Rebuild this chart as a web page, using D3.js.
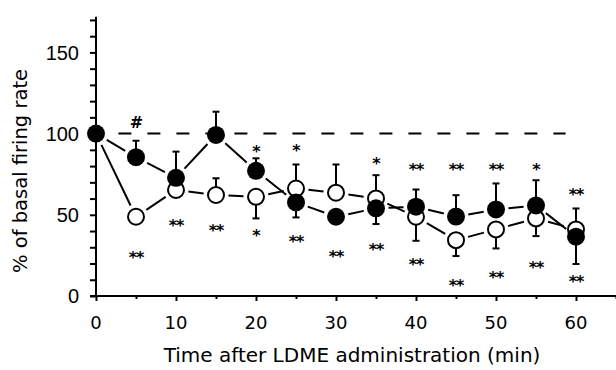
<!DOCTYPE html>
<html>
<head>
<meta charset="utf-8">
<script src="https://cdn.jsdelivr.net/npm/d3@7"></script>
<style>
  body { margin: 0; background: #fff; }
  svg { display: block; }
</style>
</head>
<body>
<svg width="616" height="370"></svg>
<script>
// time points (min)
var times = [0, 5, 10, 15, 20, 25, 30, 35, 40, 45, 50, 55, 60];

// filled circles: mean and one-sided error (+ up, - down, 0 none)
var filledMean = [100, 85.5, 72.8, 99.2, 77.1, 57.6, 48.8, 54.0, 55.0, 48.9, 53.3, 55.8, 36.5];
var filledErr  = [0, 10.1, 16.1, 14.3, 7.7, -9.2, 0, -9.7, 10.6, 13.2, 16.0, 15.5, -16.8];

// open circles
var openMean = [100, 48.8, 65.3, 62.2, 61.1, 66.2, 63.6, 60.1, 48.8, 34.4, 41.0, 47.8, 41.0];
var openErr  = [0, 0, 0, 10.3, -13.3, 14.8, 17.4, 14.3, -14.8, -9.8, -11.7, -10.9, 12.9];

// significance marks (time, text, level in % units)
var sigTime  = [5, 5, 10, 15, 20, 20, 25, 25, 30, 35, 35, 40, 40, 45, 45, 50, 50, 55, 55, 60, 60];
var sigText  = ["#", "**", "**", "**", "*", "*", "*", "**", "**", "*", "**", "**", "**", "**", "**", "**", "**", "*", "**", "**", "**"];
var sigLevel = [106.7, 26.5, 46.2, 42.7, 91.6, 39.6, 91.9, 36.1, 26.7, 84.2, 31.4, 80.2, 21.7, 80.2, 8.8, 80.2, 14.0, 80.2, 20.1, 65.3, 11.5];

// baseline reference
var baseline = 100;
var baselineFrom = 2.8, baselineTo = 58.7;

var yTicks = [0, 50, 100, 150];
var xTicks = [0, 10, 20, 30, 40, 50, 60];

var svg = d3.select("svg");
var r = 9;

var x = d3.scaleLinear().domain([0, 65]).range([96, 616]);
var y = d3.scaleLinear().domain([0, 172]).range([296, 16.7]);

// axes
var yAxis = svg.append("g")
    .attr("transform", "translate(96,0)")
    .call(d3.axisLeft(y).tickValues(d3.range(0, 171, 10)).tickSize(6).tickFormat(""));
yAxis.select(".domain").attr("d", "M0," + y.range()[1] + "V" + y(0));
yAxis.selectAll("line, path").attr("stroke", "#000").attr("stroke-width", 2);

svg.append("g").selectAll("text")
    .data(yTicks)
    .enter().append("text")
      .attr("x", 79)
      .attr("y", function(d) { return y(d); })
      .attr("dy", "0.36em")
      .attr("text-anchor", "end")
      .style("font", "20px 'Liberation Sans', Arial, sans-serif")
      .text(function(d) { return d; });

var xAxis = svg.append("g")
    .attr("transform", "translate(0,296)")
    .call(d3.axisBottom(x).tickValues(d3.range(0, 66, 5)).tickSize(5).tickFormat(""));
xAxis.select(".domain").attr("d", "M90,0H616");
xAxis.selectAll("line, path").attr("stroke", "#000").attr("stroke-width", 2);
xAxis.selectAll(".tick line").attr("y2", function(d) { return d % 10 === 0 ? 5 : 3; });

svg.append("g").selectAll("text")
    .data(xTicks)
    .enter().append("text")
      .attr("x", function(d) { return x(d); })
      .attr("y", 329)
      .attr("text-anchor", "middle")
      .style("font", "18px 'DejaVu Sans', sans-serif")
      .text(function(d) { return d; });

svg.append("text")
    .attr("x", 352)
    .attr("y", 362)
    .attr("text-anchor", "middle")
    .style("font", "20px 'DejaVu Sans', sans-serif")
    .text("Time after LDME administration (min)");

svg.append("text")
    .attr("transform", "translate(27,171) rotate(-90)")
    .attr("text-anchor", "middle")
    .style("font", "19.5px 'DejaVu Sans', sans-serif")
    .text("% of basal firing rate");

// dashed baseline
svg.append("line")
    .attr("x1", x(baselineFrom)).attr("x2", x(baselineTo))
    .attr("y1", y(baseline)).attr("y2", y(baseline))
    .attr("stroke", "#000").attr("stroke-width", 2)
    .attr("stroke-dasharray", "13,16");

// connecting segments with gaps round the markers
function segments(means) {
  var segs = [];
  for (var i = 0; i < times.length - 1; i++) {
    var x1 = x(times[i]), y1 = y(means[i]), x2 = x(times[i + 1]), y2 = y(means[i + 1]);
    var dx = x2 - x1, dy = y2 - y1, len = Math.sqrt(dx * dx + dy * dy), g = r + 3.5;
    if (len <= 2 * g) continue;
    segs.push([x1 + dx / len * g, y1 + dy / len * g, x2 - dx / len * g, y2 - dy / len * g]);
  }
  return segs;
}

[openMean, filledMean].forEach(function(means) {
  svg.append("g").selectAll("line")
    .data(segments(means))
    .enter().append("line")
      .attr("x1", function(d) { return d[0]; })
      .attr("y1", function(d) { return d[1]; })
      .attr("x2", function(d) { return d[2]; })
      .attr("y2", function(d) { return d[3]; })
      .attr("stroke", "#000").attr("stroke-width", 2);
});

// error bars
function errorBars(means, errs) {
  var data = times.map(function(t, i) { return {t: t, m: means[i], e: errs[i]}; })
    .filter(function(d) { return d.e !== 0; });
  var g = svg.append("g").selectAll("g").data(data).enter().append("g");
  g.append("line")
    .attr("x1", function(d) { return x(d.t); }).attr("x2", function(d) { return x(d.t); })
    .attr("y1", function(d) { return y(d.m); }).attr("y2", function(d) { return y(d.m + d.e); })
    .attr("stroke", "#000").attr("stroke-width", 2);
  g.append("line")
    .attr("x1", function(d) { return x(d.t) - 3.5; }).attr("x2", function(d) { return x(d.t) + 3.5; })
    .attr("y1", function(d) { return y(d.m + d.e); }).attr("y2", function(d) { return y(d.m + d.e); })
    .attr("stroke", "#000").attr("stroke-width", 2);
}
errorBars(openMean, openErr);
errorBars(filledMean, filledErr);

// markers
svg.append("g").selectAll("circle")
  .data(times.slice(1))
  .enter().append("circle")
    .attr("cx", function(d) { return x(d); })
    .attr("cy", function(d, i) { return y(openMean[i + 1]); })
    .attr("r", r - 1)
    .attr("fill", "#fff").attr("stroke", "#000").attr("stroke-width", 2);

svg.append("g").selectAll("circle")
  .data(times)
  .enter().append("circle")
    .attr("cx", function(d) { return x(d); })
    .attr("cy", function(d, i) { return y(filledMean[i]); })
    .attr("r", r)
    .attr("fill", "#000");

// significance marks
svg.append("g").selectAll("text")
  .data(sigTime)
  .enter().append("text")
    .attr("x", function(d) { return x(d); })
    .attr("y", function(d, i) { return y(sigLevel[i]); })
    .attr("dy", function(d, i) { return sigText[i] === "#" ? "0.36em" : "0.6em"; })
    .attr("text-anchor", "middle")
    .style("font", "bold 16px 'DejaVu Sans', sans-serif")
    .style("letter-spacing", "-1px")
    .text(function(d, i) { return sigText[i]; });
</script>
</body>
</html>
